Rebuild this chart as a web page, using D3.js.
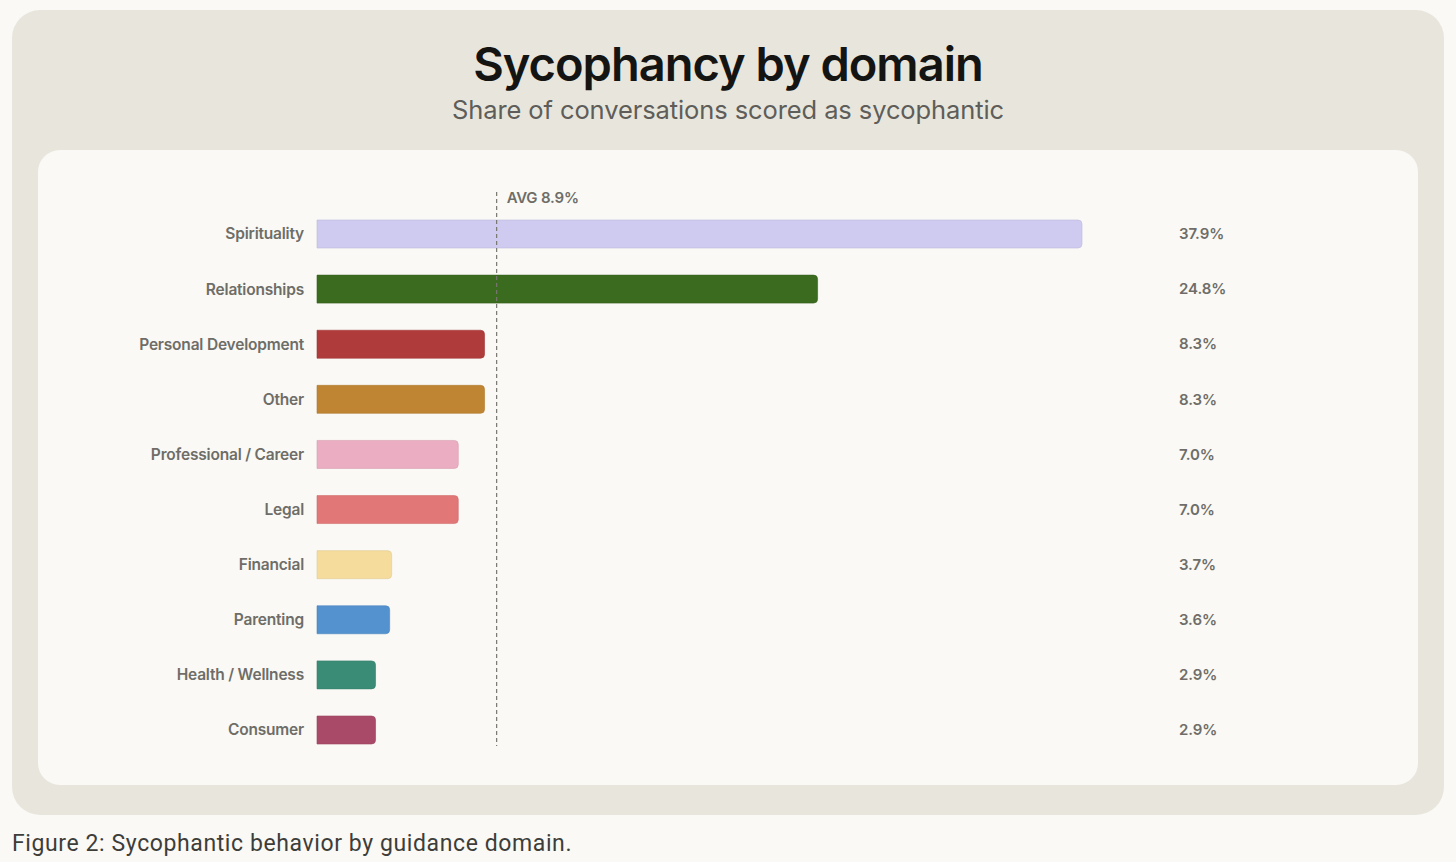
<!DOCTYPE html>
<html>
<head>
<meta charset="utf-8">
<script src="https://cdn.jsdelivr.net/npm/d3@7"></script>
<style>
  html, body { margin: 0; padding: 0; background: #faf9f5; }
  svg { display: block; }
</style>
</head>
<body>
<svg id="chart" width="1456" height="862"></svg>
<script>
// data
var domains = ["Spirituality", "Relationships", "Personal Development", "Other",
  "Professional / Career", "Legal", "Financial", "Parenting", "Health / Wellness", "Consumer"];
var shares = [37.9, 24.8, 8.3, 8.3, 7.0, 7.0, 3.7, 3.6, 2.9, 2.9];
var barColors = ["#cfcbf0", "#3b6b1f", "#b03b3b", "#c08533", "#ebadc1",
  "#e27777", "#f5dc9d", "#5391cf", "#3a8c76", "#a94a69"];
var avgShare = 8.9;

var W = 1456, H = 862;
var svg = d3.select("#chart");
var font = "Inter, 'Noto Sans', sans-serif";

// panels
svg.append("rect").attr("x", 12).attr("y", 10).attr("width", 1432).attr("height", 805)
  .attr("rx", 28).attr("fill", "#e8e6dc");
svg.append("rect").attr("x", 38).attr("y", 150).attr("width", 1380).attr("height", 635)
  .attr("rx", 22).attr("fill", "#faf9f5");

svg.append("text").attr("x", 728).attr("y", 81).attr("text-anchor", "middle")
  .attr("font-family", font).attr("font-weight", 600).attr("font-size", 47)
  .attr("letter-spacing", -1).attr("fill", "#141413")
  .text("Sycophancy by domain");
svg.append("text").attr("x", 728).attr("y", 119).attr("text-anchor", "middle")
  .attr("font-family", font).attr("font-weight", 400).attr("font-size", 25.5)
  .attr("letter-spacing", -0.1).attr("fill", "#5e5d59")
  .text("Share of conversations scored as sycophantic");

var x = d3.scaleLinear().domain([0, 37.9]).range([317, 1082]);
var y = d3.scalePoint().domain(domains).range([234, 730]);
var barH = 28, r = 4;

function barPath(d, i) {
  var x0 = x(0), x1 = x(d), y0 = y(domains[i]) - barH / 2, y1 = y0 + barH;
  return "M" + x0 + "," + y0 + "H" + (x1 - r) + "Q" + x1 + "," + y0 + " " + x1 + "," + (y0 + r)
    + "V" + (y1 - r) + "Q" + x1 + "," + y1 + " " + (x1 - r) + "," + y1 + "H" + x0 + "Z";
}

svg.append("g").selectAll("path").data(shares).join("path")
  .attr("d", barPath)
  .attr("fill", function(d, i) { return barColors[i]; })
  .attr("stroke", function(d, i) { return d3.color(barColors[i]).darker(0.25); })
  .attr("stroke-width", 0.6);

// category labels
svg.append("g").selectAll("text").data(domains).join("text")
  .attr("x", 304).attr("y", function(d) { return y(d); })
  .attr("dy", "0.35em").attr("text-anchor", "end")
  .attr("font-family", font).attr("font-weight", 600).attr("font-size", 15.5)
  .attr("letter-spacing", -0.2).attr("fill", "#6e6d68")
  .text(function(d) { return d; });

// value labels
svg.append("g").selectAll("text").data(shares).join("text")
  .attr("x", 1179).attr("y", function(d, i) { return y(domains[i]); })
  .attr("dy", "0.35em")
  .attr("font-family", font).attr("font-weight", 600).attr("font-size", 15)
  .attr("letter-spacing", -0.1).attr("fill", "#6e6d68")
  .text(function(d) { return d.toFixed(1) + "%"; });

// average line
svg.append("line").attr("x1", x(avgShare)).attr("x2", x(avgShare))
  .attr("y1", 192).attr("y2", 746)
  .attr("stroke", "#77766f").attr("stroke-width", 1.2).attr("stroke-dasharray", "4,3");
svg.append("text").attr("x", x(avgShare) + 10).attr("y", 198).attr("dy", "0.35em")
  .attr("font-family", font).attr("font-weight", 600).attr("font-size", 15)
  .attr("letter-spacing", -0.2).attr("fill", "#6e6d68")
  .text("AVG " + avgShare + "%");

svg.append("text").attr("x", 12).attr("y", 851)
  .attr("font-family", "Roboto, 'Noto Sans', sans-serif").attr("font-weight", 400).attr("font-size", 23)
  .attr("letter-spacing", 0.6).attr("fill", "#3d3d3a")
  .text("Figure 2: Sycophantic behavior by guidance domain.");
</script>
</body>
</html>
